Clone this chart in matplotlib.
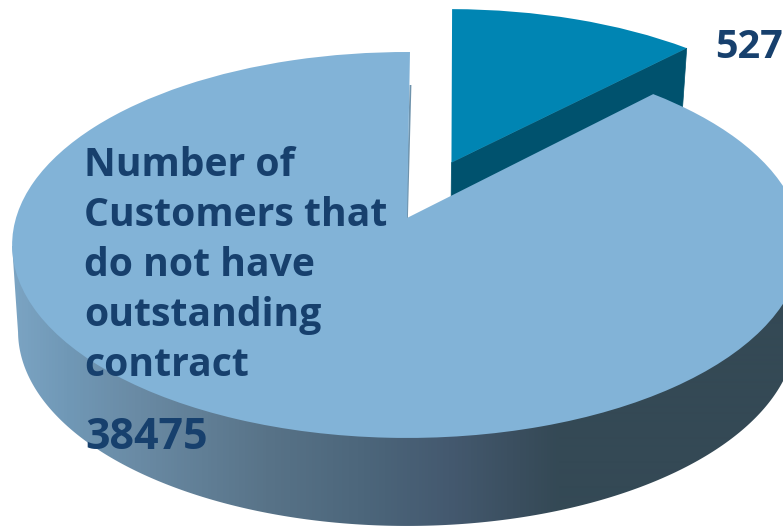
import numpy as np
import matplotlib
matplotlib.use("Agg")
import matplotlib.pyplot as plt
from matplotlib.colors import LinearSegmentedColormap
from matplotlib.patches import Polygon
from matplotlib.transforms import Transform

# ---- data
slice_names = ["Customers with outstanding contract", "Number of Customers that do not have outstanding contract"]
slice_values = [5271, 38475]
slice_explode = [0.33, 0.0]
slice_colors = ["#0085b3", "#82b3d7"]
label_lines = ["Number of", "Customers that", "do not have", "outstanding", "contract"]
label_small = "527"
label_big = "38475"

# ---- style
TEXT = "#17406d"
FONT = "Open Sans"
SIZE = 28.2
SIZE_BIG = 31
SIZE_SMALL = 28.5
CX, CY, A, B, K = 407.0, 218.0, 391.0, 189.2, 0.1398
SHRINK = 0.985
SIDE_DARK = "#00526e"
wall_cmap = LinearSegmentedColormap.from_list("wall", [
    (0.0, "#7ba4c3"), (0.07, "#7098b6"), (0.155, "#6a8ba5"), (0.325, "#587388"),
    (0.45, "#4c667b"), (0.56, "#44596f"), (0.65, "#3a4e5e"), (0.70, "#344955"),
    (1.0, "#344955")])


class Perspective(Transform):
    input_dims = output_dims = 2
    is_separable = False
    has_inverse = False

    def __init__(self, lean=0.0):
        super().__init__()
        self.lean = lean

    def transform_non_affine(self, values):
        p = np.asarray(values, float)
        w = 1 + K * p[:, 1]
        return np.column_stack([CX + A * p[:, 0] / w + self.lean * (p[:, 1] - 1.0),
                                CY - B * p[:, 1] / w])


persp_big = Perspective()
persp_small = Perspective(lean=3.3)


def lowered(uv, persp):
    top = persp.transform_non_affine(uv)
    depth = np.interp(uv[:, 1], [-1.0, 0.0, 1.03], [88, 86, 60])
    return np.column_stack([CX + (top[:, 0] - CX) * SHRINK, top[:, 1] + depth])


def rim(wedge):
    t = np.radians(np.linspace(wedge.theta1, wedge.theta2, 600))
    c = np.asarray(wedge.center)
    return np.column_stack([c[0] + wedge.r * np.cos(t), c[1] + wedge.r * np.sin(t)])


fig = plt.figure(figsize=(7.83, 5.26), dpi=100, facecolor="white")
ax = fig.add_axes([0, 0, 1, 1])
wedges, _ = ax.pie(slice_values, explode=slice_explode, colors=slice_colors,
                   startangle=89.5, counterclock=False, radius=1.0,
                   wedgeprops=dict(linewidth=0))
small, big = wedges
small.set_transform(persp_small + ax.transData)
small.set_zorder(2)
big.set_transform(persp_big + ax.transData)
big.set_zorder(4)

# side of the small slice: only the cut face towards the big slice and the rim end show
uv = rim(small)
end = uv[[np.argmax(uv[:, 0])]]
apex = np.array([small.center])
quad = np.vstack([persp_small.transform_non_affine(apex), persp_small.transform_non_affine(end),
                  lowered(end, persp_small), lowered(apex, persp_small)])
ax.add_patch(Polygon(quad, closed=True, fc=SIDE_DARK, ec=SIDE_DARK, lw=0.5, zorder=1))

# side wall of the big slice, shaded left to right through a clipped gradient
uv = rim(big)
front = uv[uv[:, 1] < -0.14]
outer_top = persp_big.transform_non_affine(front)
inner_top = persp_big.transform_non_affine(front * 0.97)
low = lowered(front, persp_big)
strip = np.vstack([outer_top[:1], inner_top, outer_top[-1:], low[::-1]])
grad = ax.imshow(np.linspace(0, 1, 783)[None, :], cmap=wall_cmap, vmin=0, vmax=1,
                 extent=(12, 795, 526, 0), aspect="auto", zorder=3, interpolation="bilinear")
clip = Polygon(strip, closed=True, transform=ax.transData)
ax.add_patch(clip)
clip.set_visible(False)
grad.set_clip_path(clip)

# thin visible cut face along the left edge of the notch
ax.plot([410.5, 407], [85, 218], color="#6f93ac", lw=1.3, zorder=3.5, solid_capstyle="butt")

ax.set_aspect("auto")
ax.set_xlim(0, 783)
ax.set_ylim(526, 0)
ax.axis("off")

txt = dict(family=FONT, weight="bold", color=TEXT, zorder=5)
for i, line in enumerate(label_lines):
    ax.text(84, 176 + 50 * i, line, va="baseline", ha="left", size=SIZE, **txt)
ax.text(85, 449, label_big, va="baseline", ha="left", size=SIZE_BIG, **txt)
ax.text(715, 58, label_small, va="baseline", ha="left", size=SIZE_SMALL, **txt)

fig.savefig("out.png", dpi=100)
